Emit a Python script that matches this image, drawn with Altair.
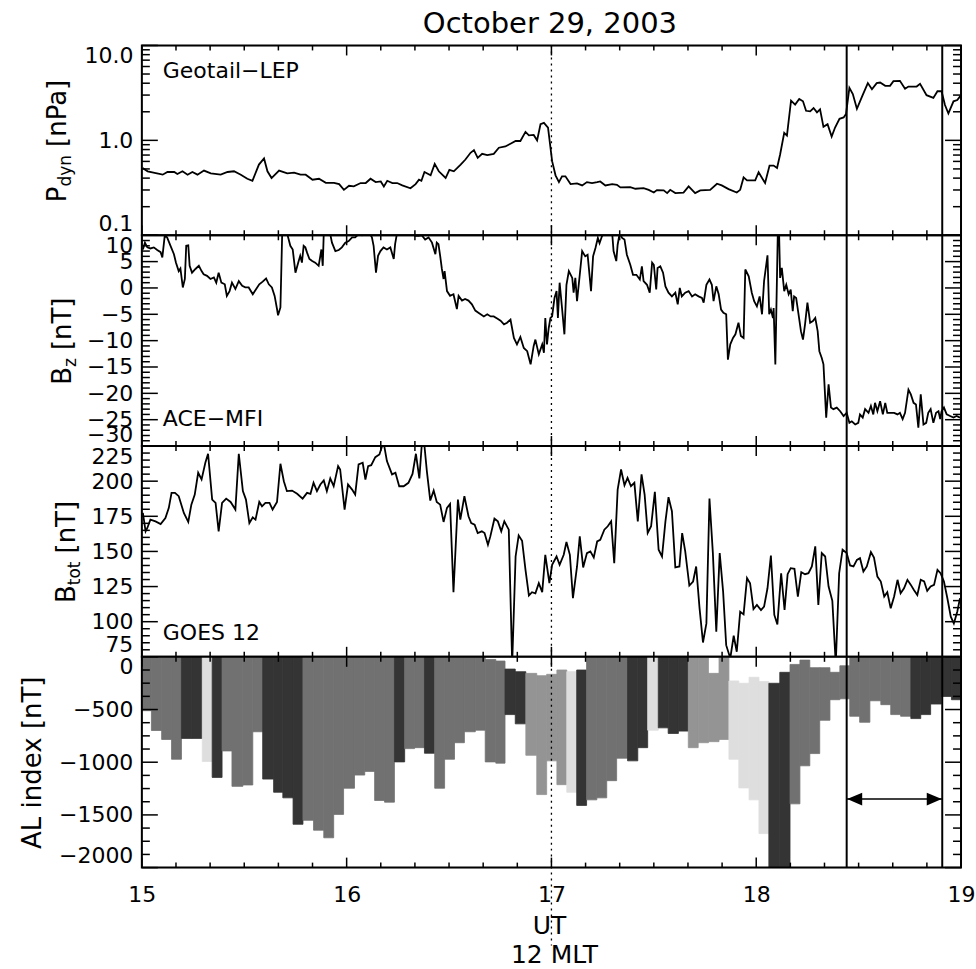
import altair as alt
import pandas as pd

FONT = "DejaVu Sans"
W = 820
H1, H2, H3, H4 = 190, 211, 211, 211

# ---------------- data (time in minutes after 15:00 UT) ----------------
PDYN = [(0.2,0.512),(1.7,0.472),(6.1,0.435),(7.5,0.464),(9.5,0.464),(10.4,0.442),(11.9,0.472),(13.4,0.435),
(14.8,0.464),(16.3,0.435),(18.2,0.480),(20.2,0.449),(23.1,0.435),(25.1,0.464),(27.0,0.472),(29.0,0.435),
(30.9,0.394),(32.4,0.375),(34.3,0.556),(35.8,0.644),(36.8,0.472),(38.0,0.401),(40.2,0.480),(42.6,0.449),
(44.6,0.457),(46.5,0.435),(48.0,0.435),(50.0,0.385),(51.9,0.394),(53.9,0.357),(56.3,0.357),(57.8,0.346),
(59.2,0.301),(60.7,0.332),(62.1,0.327),(64.1,0.355),(65.6,0.355),(67.0,0.394),(68.5,0.363),(70.0,0.369),
(70.9,0.327),(71.9,0.375),(73.4,0.355),(74.8,0.355),(76.3,0.335),(78.7,0.313),(80.2,0.346),(81.2,0.385),
(81.9,0.375),(82.8,0.464),(84.6,0.428),(85.8,0.565),(87.0,0.472),(89.0,0.401),(90.1,0.488),(91.4,0.472),
(93.4,0.556),(94.8,0.628),(96.3,0.739),(97.3,0.789),(98.4,0.654),(99.7,0.721),(101.2,0.698),(103.1,0.721),
(104.6,0.836),(106.5,0.863),(108.0,0.922),(109.5,0.984),(110.9,0.984),(112.4,1.227),(113.4,1.130),(114.8,1.140),
(115.8,1.0),(116.8,1.480),(117.8,1.528),(119.0,1.364),(120.2,0.603),(121.2,0.428),(122.2,0.363),(123.1,0.418),
(124.1,0.418),(125.6,0.346),(127.5,0.352),(129.0,0.335),(130.4,0.363),(131.9,0.355),(133.4,0.363),(134.3,0.369),
(135.8,0.335),(137.8,0.346),(139.2,0.340),(140.2,0.319),(143.1,0.321),(144.6,0.309),(147.0,0.313),(148.5,0.301),
(150.0,0.282),(150.9,0.299),(152.9,0.297),(153.9,0.278),(154.8,0.301),(156.3,0.278),(158.7,0.282),(160.2,0.327),
(162.1,0.278),(163.6,0.297),(166.5,0.301),(168.5,0.349),(169.9,0.335),(171.9,0.306),(174.3,0.282),(175.3,0.301),
(176.3,0.407),(177.3,0.379),(179.7,0.379),(180.7,0.461),(182.6,0.355),(183.9,0.542),(185.1,0.542),(186.1,0.512),
(187.0,0.710),(188.2,1.197),(189.0,1.121),(190.2,2.62),(191.4,2.38),(192.6,2.73),(193.7,2.58),(194.6,2.05),
(195.8,2.02),(196.8,2.19),(197.8,1.97),(198.7,2.12),(199.7,1.387),(200.9,1.48),(202.1,1.094),(203.1,1.364),
(204.4,1.686),(205.6,1.742),(206.3,1.89),(207.3,3.57),(208.3,3.08),(209.5,2.15),(210.9,2.84),(212.7,4.01),
(213.9,3.46),(215.3,4.01),(216.3,4.07),(217.8,3.75),(219.2,3.75),(220.2,4.21),(222.1,4.24),(223.6,3.49),
(224.6,3.69),(227.0,3.69),(228.0,3.94),(229.9,2.99),(231.9,2.80),(233.1,3.29),(234.3,3.29),(235.3,2.36),
(236.3,1.92),(237.8,2.58),(238.9,2.66),(239.9,2.96)]

BZ = [(0.3,7.3),(0.9,8.6),(1.6,7.7),(2.5,7.5),(3.5,7.7),(4.5,7.2),(5.5,6.8),(6.0,5.8),(6.7,9.9),(7.4,9.6),
(8.4,8.0),(9.4,6.4),(10.0,4.8),(10.8,3.2),(11.3,3.7),(12.0,0.1),(12.6,1.7),(13.0,8.0),(13.6,8.1),(14.0,4.2),
(14.7,2.9),(15.7,3.6),(16.7,4.2),(17.5,3.2),(18.1,2.6),(19.1,2.3),(20.1,1.7),(21.1,2.0),(21.8,1.0),(22.5,2.9),
(23.3,1.0),(24.3,0.7),(24.9,-1.5),(25.7,-0.6),(26.4,1.0),(27.4,-0.2),(28.4,1.3),(29.4,0.4),(30.3,0.1),(31.3,0.1),
(32.5,-1.2),(33.5,-0.2),(34.4,0.7),(35.4,1.2),(36.4,1.8),(37.2,0.7),(38.1,0.1),(38.9,-1.5),(39.6,-4.0),(39.9,-5.2),
(40.6,-3.7),(41.1,9.9),(41.6,10.8),(42.5,10.5),(43.5,8.0),(44.2,7.3),(45.0,2.9),(45.8,4.8),(46.4,6.1),(46.9,4.8),
(47.4,8.0),(47.9,7.7),(48.4,6.7),(49.1,5.5),(49.9,5.1),(50.8,4.8),(51.8,4.2),(52.6,7.3),(53.0,4.2),(53.3,10.5),
(54.2,10.8),(55.2,10.2),(55.7,8.6),(56.7,7.0),(57.7,7.2),(58.6,7.7),(59.6,8.6),(60.6,8.9),(61.6,9.6),(62.5,9.6),
(63.5,10.2),(64.5,10.0),(66.4,10.8),(67.4,9.6),(67.9,8.0),(68.6,2.9),(69.2,6.1),(69.9,7.0),(70.8,7.7),(71.8,7.3),
(72.8,7.7),(73.8,5.5),(74.2,8.3),(74.7,10.2),(76.2,10.8),(78.1,10.6),(80.1,9.9),(81.1,9.9),(82.0,10.0),(83.0,9.2),
(84.0,9.6),(85.0,8.6),(86.0,6.4),(86.4,8.6),(86.9,8.3),(87.4,6.1),(87.9,3.6),(88.4,1.7),(88.7,3.2),(89.4,-0.6),
(90.3,-1.5),(91.3,-1.2),(92.3,-4.0),(92.8,-1.5),(93.8,-2.4),(94.7,-2.1),(95.7,-2.4),(96.7,-3.1),(97.7,-4.3),(98.6,-4.7),
(100.2,-5.4),(101.2,-5.0),(102.2,-5.4),(103.1,-5.4),(104.1,-5.8),(105.1,-6.2),(106.1,-6.9),(107.0,-6.6),(108.0,-6.0),
(109.0,-9.5),(109.9,-10.7),(110.9,-9.3),(111.9,-11.4),(112.9,-12.0),(113.9,-14.5),(114.8,-11.0),(115.3,-9.8),
(116.3,-12.6),(117.3,-10.7),(117.8,-12.3),(118.2,-5.7),(118.7,-10.7),(119.2,-7.6),(119.7,-5.7),(120.2,-5.4),
(120.9,-1.9),(121.5,-0.6),(121.9,-5.7),(122.4,1.0),(123.1,-3.8),(123.8,-8.8),(124.4,0.6),(125.1,3.2),(126.1,1.9),
(126.5,-0.9),(127.0,1.9),(127.5,-2.5),(128.3,2.5),(129.0,7.0),(129.9,6.0),(130.6,6.3),(131.6,-0.6),(132.2,6.0),
(132.9,7.6),(133.6,9.5),(134.1,8.5),(134.8,9.8),(135.5,10.4),(136.8,11.1),(137.8,10.4),(138.2,7.0),(139.0,5.1),
(139.4,8.2),(140.0,10.4),(140.7,9.5),(141.4,9.2),(142.1,6.3),(143.1,4.4),(143.9,2.5),(144.9,2.5),(145.9,1.6),
(146.5,4.1),(147.0,1.3),(148.0,0.6),(148.8,-0.9),(149.5,4.8),(150.0,4.4),(150.7,-0.3),(151.1,3.8),(151.9,4.1),
(152.7,2.9),(153.4,0.3),(154.3,-0.9),(155.3,-1.6),(156.3,-0.9),(157.0,-3.1),(157.6,0.0),(158.2,-1.6),(159.2,-0.9),
(160.2,-0.6),(161.2,-1.6),(162.1,-1.2),(163.1,-1.6),(164.1,-1.9),(164.6,-2.8),(165.4,0.6),(166.3,1.6),(167.0,0.6),
(167.5,-2.5),(168.3,0.3),(169.0,-1.2),(169.7,-4.1),(170.4,-4.7),(171.2,-5.0),(171.7,-13.6),(172.4,-10.7),(173.2,-9.5),
(173.9,-8.8),(174.8,-6.6),(175.5,-9.1),(176.3,-9.5),(176.8,3.5),(177.8,2.2),(178.7,-0.9),(179.4,-2.5),(180.2,-3.5),
(181.0,-1.6),(181.7,-5.0),(182.3,1.3),(183.3,6.2),(183.8,-5.0),(184.3,-4.1),(184.9,-5.7),(185.1,-3.8),(185.6,-14.5),
(186.3,9.8),(186.7,10.4),(187.0,1.9),(187.5,3.8),(188.2,-0.6),(188.8,0.6),(189.5,-1.2),(190.1,-0.3),(190.7,-4.4),
(191.1,-1.6),(191.7,-1.9),(192.4,-5.0),(193.1,-8.2),(193.7,-9.8),(194.3,-6.9),(195.0,-2.8),(195.8,-6.6),(196.6,-6.3),
(197.3,-5.7),(198.0,-8.2),(198.5,-12.0),(199.2,-13.3),(199.7,-14.5),(200.5,-24.6),(201.2,-18.3),(201.9,-22.7),
(202.6,-23.0),(203.6,-22.7),(204.6,-23.4),(205.6,-24.3),(206.5,-23.7),(207.3,-25.6),(208.0,-25.3),(209.0,-25.9),
(209.9,-25.6),(210.4,-24.0),(211.2,-24.6),(211.9,-23.0),(212.9,-23.7),(213.6,-22.4),(214.3,-24.0),(214.8,-21.8),
(215.5,-23.4),(216.3,-21.5),(217.1,-24.0),(217.8,-21.8),(218.4,-23.7),(219.4,-23.7),(220.4,-23.7),(221.4,-24.0),
(222.1,-23.7),(222.9,-24.9),(223.6,-23.7),(224.6,-19.3),(225.3,-20.2),(226.1,-21.8),(226.8,-22.1),(227.5,-26.5),
(228.2,-20.2),(229.0,-25.9),(229.8,-25.6),(230.4,-23.7),(231.1,-23.0),(231.9,-25.6),(232.7,-23.7),(233.4,-23.4),
(233.9,-24.9),(234.3,-23.4),(235.0,-22.7),(235.8,-24.0),(236.8,-24.3),(237.8,-24.6),(238.7,-24.3),(239.7,-24.6)]

BTOT = [(0.3,177.4),(1.1,164.3),(1.6,166.7),(2.5,172.6),(4.0,171.4),(5.5,169.5),(6.9,173.8),(7.9,181.0),(8.7,191.7),
(9.7,191.7),(10.8,189.3),(12.3,177.4),(13.6,171.0),(14.5,183.3),(15.5,190.5),(16.5,206.0),(17.5,201.2),(18.6,213.1),
(19.4,219.5),(20.6,186.9),(21.6,184.5),(22.5,164.3),(23.5,184.5),(24.7,187.6),(26.0,185.2),(27.4,179.8),(28.4,219.5),
(29.6,192.9),(30.5,186.9),(31.5,170.2),(32.5,174.3),(33.3,172.6),(34.4,185.2),(35.2,182.1),(36.2,184.5),(37.4,184.5),
(38.3,179.8),(39.6,185.2),(40.6,212.4),(41.6,200.0),(42.5,192.9),(44.0,193.3),(45.5,191.0),(47.1,187.6),(48.4,191.7),
(49.4,191.0),(50.3,198.8),(51.3,192.9),(52.3,197.6),(53.3,200.5),(54.2,192.9),(55.2,201.9),(56.2,196.4),(57.5,210.7),
(58.1,208.3),(59.4,179.8),(60.4,197.6),(61.6,194.0),(62.5,190.5),(63.5,211.9),(64.7,213.1),(65.5,201.2),(66.3,210.7),
(67.2,211.4),(68.4,217.1),(69.6,219.0),(70.8,228.0),(71.8,214.3),(73.3,204.8),(74.3,206.0),(75.4,196.4),(76.7,196.4),
(78.1,198.8),(79.3,205.2),(80.3,219.5),(81.3,201.9),(82.1,229.0),(82.8,225.0),(83.5,207.1),(84.5,186.2),(85.5,193.3),
(86.4,185.2),(87.4,183.3),(88.4,171.0),(89.4,181.0),(90.3,183.8),(91.3,121.0),(92.6,186.9),(93.3,172.6),(94.5,189.3),
(95.7,175.0),(96.5,170.2),(97.5,169.0),(98.4,163.1),(99.6,164.3),
(100.4,163.1),(101.4,154.8),(102.1,160.7),(103.3,173.3),(104.3,171.4),(105.3,164.3),(106.2,171.4),(107.5,165.5),
(108.5,70.0),(109.5,146.4),(110.4,161.4),(111.4,157.6),(112.4,136.9),(113.4,118.6),(114.3,121.0),(115.3,120.2),
(116.3,127.4),(117.3,121.0),(118.2,147.6),(119.4,127.4),(120.2,140.5),(121.5,146.4),(122.4,140.5),(123.6,147.6),
(124.4,156.7),(125.4,147.6),(126.3,116.7),(127.5,139.3),(128.3,160.7),(129.3,138.6),(130.4,148.8),(131.4,150.0),
(132.4,145.7),(133.4,157.1),(134.3,158.3),(135.5,165.5),(136.5,167.9),(137.5,171.4),(138.4,141.7),(139.4,194.0),
(140.4,208.3),(141.4,197.1),(142.3,202.4),(143.3,196.4),(144.3,198.8),(145.3,171.4),(146.4,204.8),(147.3,190.5),
(148.2,163.1),(149.2,167.9),(150.3,192.4),(151.4,151.2),(152.4,146.4),(153.4,171.4),(154.3,188.6),(155.3,178.6),
(156.3,138.6),(157.5,139.3),(158.3,163.1),(159.2,150.0),(160.4,125.7),(161.5,128.6),(162.4,139.3),(163.4,109.5),
(164.4,85.2),(165.4,98.8),(166.3,187.6),(167.3,148.8),(168.3,92.9),(169.3,148.8),(170.3,121.4),(171.2,83.3),
(172.4,74.0),(173.4,90.0),(174.3,78.6),(175.3,107.1),(176.3,105.2),(177.3,131.0),(178.2,127.4),(179.2,109.0),
(180.2,111.9),(181.4,108.3),(182.3,110.7),(183.3,123.8),(184.3,147.1),(185.3,104.8),(186.2,98.1),(187.3,134.5),
(188.3,108.3),(189.2,133.8),(190.1,138.1),(191.2,137.6),(192.2,117.9),(193.2,135.2),(194.3,133.8),(195.3,134.5),
(196.3,139.3),(197.3,153.6),(198.2,111.9),(199.2,148.8),(200.2,146.4),(201.2,125.0),(202.3,114.8),(203.3,70.0),
(204.3,134.5),(205.3,151.2),(206.5,148.8),(207.5,140.0),(208.5,139.3),(209.5,144.0),(210.4,145.2),(211.4,135.7),
(212.4,139.3),(213.6,149.5),(214.5,145.7),(215.5,132.1),(216.5,128.6),(217.5,117.9),(218.4,121.0),(219.4,109.5),
(220.4,117.9),(221.4,129.8),(222.3,120.2),(223.3,123.8),(224.3,129.8),(225.3,126.2),(226.2,122.6),(227.2,119.0),
(228.2,129.8),(229.2,128.6),(230.1,121.9),(231.1,125.0),(232.1,126.2),(233.1,136.9),(234.0,134.5),(235.0,128.6),
(236.0,116.7),(237.0,103.6),(237.9,98.8),(238.9,107.1),(239.7,116.7)]

# AL index bins: (start, end, top, bottom, station group)
AL_BINS = [(0.1,2.8,0,-511,'M'),(2.8,5.8,0,-699,'M'),(5.8,8.7,0,-784,'M'),(8.7,11.6,0,-972,'M'),
(11.6,14.6,0,-774,'D'),(14.6,17.7,0,-774,'D'),(17.7,20.6,0,-993,'L'),(20.6,23.5,0,-1144,'D'),
(23.5,26.4,0,-893,'M'),(26.4,29.6,0,-1229,'M'),(29.6,32.5,0,-1216,'M'),(32.5,35.4,0,-711,'M'),
(35.4,38.6,0,-1160,'D'),(38.6,41.3,0,-1285,'D'),(41.3,44.3,0,-1338,'D'),(44.3,47.2,0,-1589,'D'),
(47.2,50.3,0,-1551,'M'),(50.3,53.3,0,-1645,'M'),(53.3,56.2,0,-1717,'M'),(56.2,59.1,0,-1495,'M'),
(59.1,62.3,0,-1247,'M'),(62.3,65.3,0,-1122,'M'),(65.3,68.2,0,-1087,'M'),(68.2,71.1,0,-1363,'M'),
(71.1,74.0,0,-1379,'M'),(74.0,77.0,0,-997,'D'),(77.0,79.9,0,-871,'M'),(79.9,82.8,0,-862,'M'),
(82.8,85.8,0,-915,'D'),(85.8,88.7,0,-1247,'M'),(88.7,91.6,0,-972,'M'),(91.6,94.5,0,-815,'M'),
(94.5,97.7,0,-711,'M'),(97.7,100.6,0,-696,'M'),(100.6,103.7,-25,-997,'M'),(103.7,106.4,-40,-1009,'M'),
(106.4,109.4,-116,-548,'D'),(109.4,112.5,-141,-636,'D'),(112.5,115.7,-157,-934,'ML'),(115.7,118.6,-179,-1307,'ML'),
(118.6,121.6,-166,-987,'ML'),(121.6,124.5,-125,-1213,'ML'),(124.5,127.4,-141,-1285,'L'),(127.4,130.3,-125,-1410,'D'),
(130.3,133.3,0,-1357,'M'),(133.3,136.2,0,-1338,'M'),(136.2,139.1,0,-1175,'M'),(139.1,142.3,0,-962,'M'),
(142.3,145.3,0,-987,'D'),(145.3,148.2,0,-862,'D'),(148.2,151.3,0,-696,'L'),(151.3,154.2,0,-674,'D'),
(154.2,157.2,0,-727,'D'),(157.2,160.1,0,-705,'D'),(160.1,163.0,0,-862,'ML'),(163.0,166.0,0,-815,'ML'),
(166.0,169.1,-157,-805,'ML'),(169.1,172.0,0,-784,'ML'),(172.0,174.9,-229,-972,'L'),(174.9,177.9,-251,-1244,'L'),
(177.9,180.8,-194,-1357,'L'),(180.8,183.7,-235,-1677,'L'),(183.7,186.9,-251,-2100,'D'),(186.9,189.9,-147,-2100,'D'),
(189.9,192.8,-72,-1395,'M'),(192.8,195.7,-31,-1034,'M'),(195.7,198.6,-103,-918,'M'),(198.6,201.6,-103,-602,'M'),
(201.6,204.5,-147,-407,'M'),(204.5,207.4,-85,-398,'M'),(207.4,210.3,0,-564,'M'),(210.3,213.3,0,-621,'M'),
(213.3,216.5,0,-417,'M'),(216.5,219.4,0,-454,'M'),(219.4,222.3,0,-548,'M'),(222.3,225.3,0,-564,'M'),
(225.3,228.2,0,-586,'D'),(228.2,231.1,0,-548,'D'),(231.1,234.2,0,-448,'D'),(234.2,237.2,0,-376,'D'),
(237.2,240.0,0,-407,'D')]
AL_GROUPS = ['M', 'D', 'L', 'ML']
AL_SHADES = ['#717171', '#343434', '#dedede', '#949494']

T_NOON = 120.0              # 17:00 UT = 12 MLT
T_MARKS = [206.5, 234.5]    # interval markers
ARROW_AL = -1350

X_MAJOR = [0, 60, 120, 180, 240]
X_MINOR = [m for m in range(0, 241, 10) if m % 60]

XS = alt.Scale(domain=[0, 240], nice=False, zero=False)

YAX = dict(title=None, ticks=False, tickSize=0, domain=False, grid=False, labelFlush=True,
           labelOverlap=False, labelPadding=9, labelFontSize=22, labelFont=FONT, labelColor='black')

X_NONE = None
X_AX4 = alt.Axis(values=X_MAJOR, labelExpr="format(15 + datum.value / 60, 'd')", ticks=False, tickSize=0,
                 domain=False, grid=False, title=None, labelFontSize=22, labelFont=FONT,
                 labelColor='black', labelPadding=17, labelFlush=False, labelOverlap=False)

# DejaVu Sans advance widths (em) for title layout
CW = {'P': .603, 'd': .635, 'y': .592, 'n': .634, ' ': .318, '[': .390, ']': .390, 'a': .613,
      'B': .686, 'z': .525, 'T': .611, 't': .392, 'o': .612, 'A': .684, 'L': .557, 'i': .278,
      'e': .615, 'x': .592}


def one():
    return pd.DataFrame({'k': [0]})


def txt(s, x, y, size, align='left', angle=0, baseline='alphabetic'):
    kw = dict(text=s, font=FONT, fontSize=size, align=align, baseline=baseline, color='black')
    if angle:
        kw['angle'] = angle
    return alt.Chart(one()).mark_text(**kw).encode(x=alt.value(x), y=alt.value(y))


def vtitle(segs, cy, bx):
    # segs: (text, font size, baseline shift, gap before)
    widths = [gap + sum(CW.get(ch, 0.6) for ch in s) * size for s, size, _, gap in segs]
    y = cy + sum(widths) / 2
    out = []
    for (s, size, shift, gap), w in zip(segs, widths):
        out.append(txt(s, bx + shift, y - gap, size, align='left', angle=270))
        y -= w
    return out


def frame_ticks(H, ysc, yax, xax, ymaj, ymin, ymaj_len=16, ymin_len=8, xmaj_len=10, xmin_len=5):
    layers = []
    for vals, L in ((X_MAJOR, xmaj_len), (X_MINOR, xmin_len)):
        base = alt.Chart(pd.DataFrame({'m': vals})).mark_rule(color='black', strokeWidth=1.5)
        layers.append(base.encode(x=alt.X('m:Q', scale=XS, axis=xax), y=alt.value(0), y2=alt.value(L)))
        layers.append(base.encode(x=alt.X('m:Q', scale=XS, axis=xax), y=alt.value(H), y2=alt.value(H - L)))
    for vals, L in ((ymaj, ymaj_len), (ymin, ymin_len)):
        base = alt.Chart(pd.DataFrame({'v': vals})).mark_rule(color='black', strokeWidth=1.5)
        layers.append(base.encode(y=alt.Y('v:Q', scale=ysc, axis=yax), x=alt.value(0), x2=alt.value(L)))
        layers.append(base.encode(y=alt.Y('v:Q', scale=ysc, axis=yax), x=alt.value(W), x2=alt.value(W - L)))
    layers.append(alt.Chart(one()).mark_rect(fillOpacity=0, stroke='black', strokeWidth=2).encode(
        x=alt.value(0), x2=alt.value(W), y=alt.value(0), y2=alt.value(H)))
    return layers


def vlines(H, xax, extend=0):
    dot = alt.Chart(pd.DataFrame({'m': [T_NOON]})).mark_rule(
        color='black', strokeWidth=1.3, strokeDash=[2, 4]).encode(
        x=alt.X('m:Q', scale=XS, axis=xax), y=alt.value(0), y2=alt.value(H + extend))
    solid = alt.Chart(pd.DataFrame({'m': T_MARKS})).mark_rule(color='black', strokeWidth=2).encode(
        x=alt.X('m:Q', scale=XS, axis=xax), y=alt.value(0), y2=alt.value(H))
    return [dot, solid]


# ---------------- panel 1: Pdyn ----------------
ys1 = alt.Scale(type='log', domain=[0.1, 10], nice=False)
yax1 = alt.Axis(values=[0.1, 1, 10], format='.1f', **YAX)
p1_line = alt.Chart(pd.DataFrame(PDYN, columns=['t', 'v'])).mark_line(
    color='black', strokeWidth=1.8, clip=True).encode(
    x=alt.X('t:Q', scale=XS, axis=X_NONE), y=alt.Y('v:Q', scale=ys1, axis=yax1))
p1_minor = [v / 10 for v in range(2, 10)] + [float(v) for v in range(2, 10)]
anchor = alt.Chart(one()).mark_rule(strokeOpacity=0, strokeWidth=0).encode(
    x=alt.value(-141), x2=alt.value(-141), y=alt.value(-44), y2=alt.value(-44))
p1 = alt.layer(
    p1_line, *vlines(H1, X_NONE), *frame_ticks(H1, ys1, yax1, X_NONE, [0.1, 1, 10], p1_minor),
    txt('Geotail\u2212LEP', 21, 33, 22),
    txt('October 29, 2003', 408.5, -12, 29, align='center'),
    *vtitle([('P', 26, 0, 0), ('dyn', 17, 5, 0), ('[nPa]', 26, 0, 8)], 95, -76),
    anchor,
).properties(width=W, height=H1)

# ---------------- panel 2: Bz ----------------
ys2 = alt.Scale(domain=[-30, 10], nice=False, zero=False)
yax2 = alt.Axis(values=list(range(-30, 11, 5)), format='d', **YAX)
p2_line = alt.Chart(pd.DataFrame(BZ, columns=['t', 'v'])).mark_line(
    color='black', strokeWidth=1.8, clip=True).encode(
    x=alt.X('t:Q', scale=XS, axis=X_NONE), y=alt.Y('v:Q', scale=ys2, axis=yax2))
p2 = alt.layer(
    p2_line, *vlines(H2, X_NONE),
    *frame_ticks(H2, ys2, yax2, X_NONE, list(range(-30, 11, 5)), [v for v in range(-30, 11) if v % 5]),
    txt('ACE\u2212MFI', 21, 191, 22),
    *vtitle([('B', 26, 0, 0), ('z', 17, 5, 0), ('[nT]', 26, 0, 8)], 106, -71),
).properties(width=W, height=H2)

# ---------------- panel 3: Btot ----------------
ys3 = alt.Scale(domain=[75, 225], nice=False, zero=False)
yax3 = alt.Axis(values=list(range(75, 226, 25)), format='d', **YAX)
p3_line = alt.Chart(pd.DataFrame(BTOT, columns=['t', 'v'])).mark_line(
    color='black', strokeWidth=1.8, clip=True).encode(
    x=alt.X('t:Q', scale=XS, axis=X_NONE), y=alt.Y('v:Q', scale=ys3, axis=yax3))
p3 = alt.layer(
    p3_line, *vlines(H3, X_NONE),
    *frame_ticks(H3, ys3, yax3, X_NONE, list(range(75, 226, 25)), [v for v in range(75, 226, 5) if v % 25]),
    txt('GOES 12', 21, 194, 22),
    *vtitle([('B', 26, 0, 0), ('tot', 17, 5, 0), ('[nT]', 26, 0, 8)], 106, -67),
).properties(width=W, height=H3)

# ---------------- panel 4: AL index ----------------
ys4 = alt.Scale(domain=[-2000, 0], nice=False, zero=False)
yax4 = alt.Axis(values=list(range(-2000, 1, 500)), format='d', **YAX)
shade = alt.Scale(domain=AL_GROUPS, range=AL_SHADES)
al_df = pd.DataFrame(AL_BINS, columns=['t0', 't1', 'top', 'bot', 'grp'])
p4_bars = alt.Chart(al_df).mark_rect(clip=True, strokeWidth=0.8).encode(
    x=alt.X('t0:Q', scale=XS, axis=X_AX4), x2='t1:Q',
    y=alt.Y('top:Q', scale=ys4, axis=yax4), y2='bot:Q',
    color=alt.Color('grp:N', scale=shade, legend=None),
    stroke=alt.Stroke('grp:N', scale=shade, legend=None),
)
arrow_df = pd.DataFrame({'a': [T_MARKS[0]], 'b': [T_MARKS[1]], 'v': [ARROW_AL]})
arrow_line = alt.Chart(arrow_df).mark_rule(color='black', strokeWidth=1.5).encode(
    x=alt.X('a:Q', scale=XS, axis=X_AX4), x2='b:Q', y=alt.Y('v:Q', scale=ys4, axis=yax4))
head_l = alt.Chart(arrow_df).mark_point(
    shape='M-1,0L1,-0.85L1,0.85Z', size=225, filled=True, color='black', opacity=1, xOffset=8).encode(
    x=alt.X('a:Q', scale=XS, axis=X_AX4), y=alt.Y('v:Q', scale=ys4, axis=yax4))
head_r = alt.Chart(arrow_df).mark_point(
    shape='M1,0L-1,-0.85L-1,0.85Z', size=225, filled=True, color='black', opacity=1, xOffset=-8).encode(
    x=alt.X('b:Q', scale=XS, axis=X_AX4), y=alt.Y('v:Q', scale=ys4, axis=yax4))
p4 = alt.layer(
    p4_bars, arrow_line, head_l, head_r, *vlines(H4, X_AX4, extend=78),
    *frame_ticks(H4, ys4, yax4, X_AX4, list(range(-2000, 1, 500)), [v for v in range(-2000, 1, 125) if v % 500]),
    txt('AL index [nT]', -101, 106, 26, align='center', angle=270),
    txt('UT', 408, 277, 25, align='center'),
    txt('12 MLT', 413, 306, 25, align='center'),
).properties(width=W, height=H4)

chart = alt.VConcatChart(
    vconcat=[p1, p2, p3, p4], spacing=0, bounds='flush',
    padding={'left': 0, 'top': 0, 'right': 0, 'bottom': 0},
).configure_view(stroke=None).configure(background='white')

chart.save("out.html", embed_options={"renderer": "svg", "actions": False})
